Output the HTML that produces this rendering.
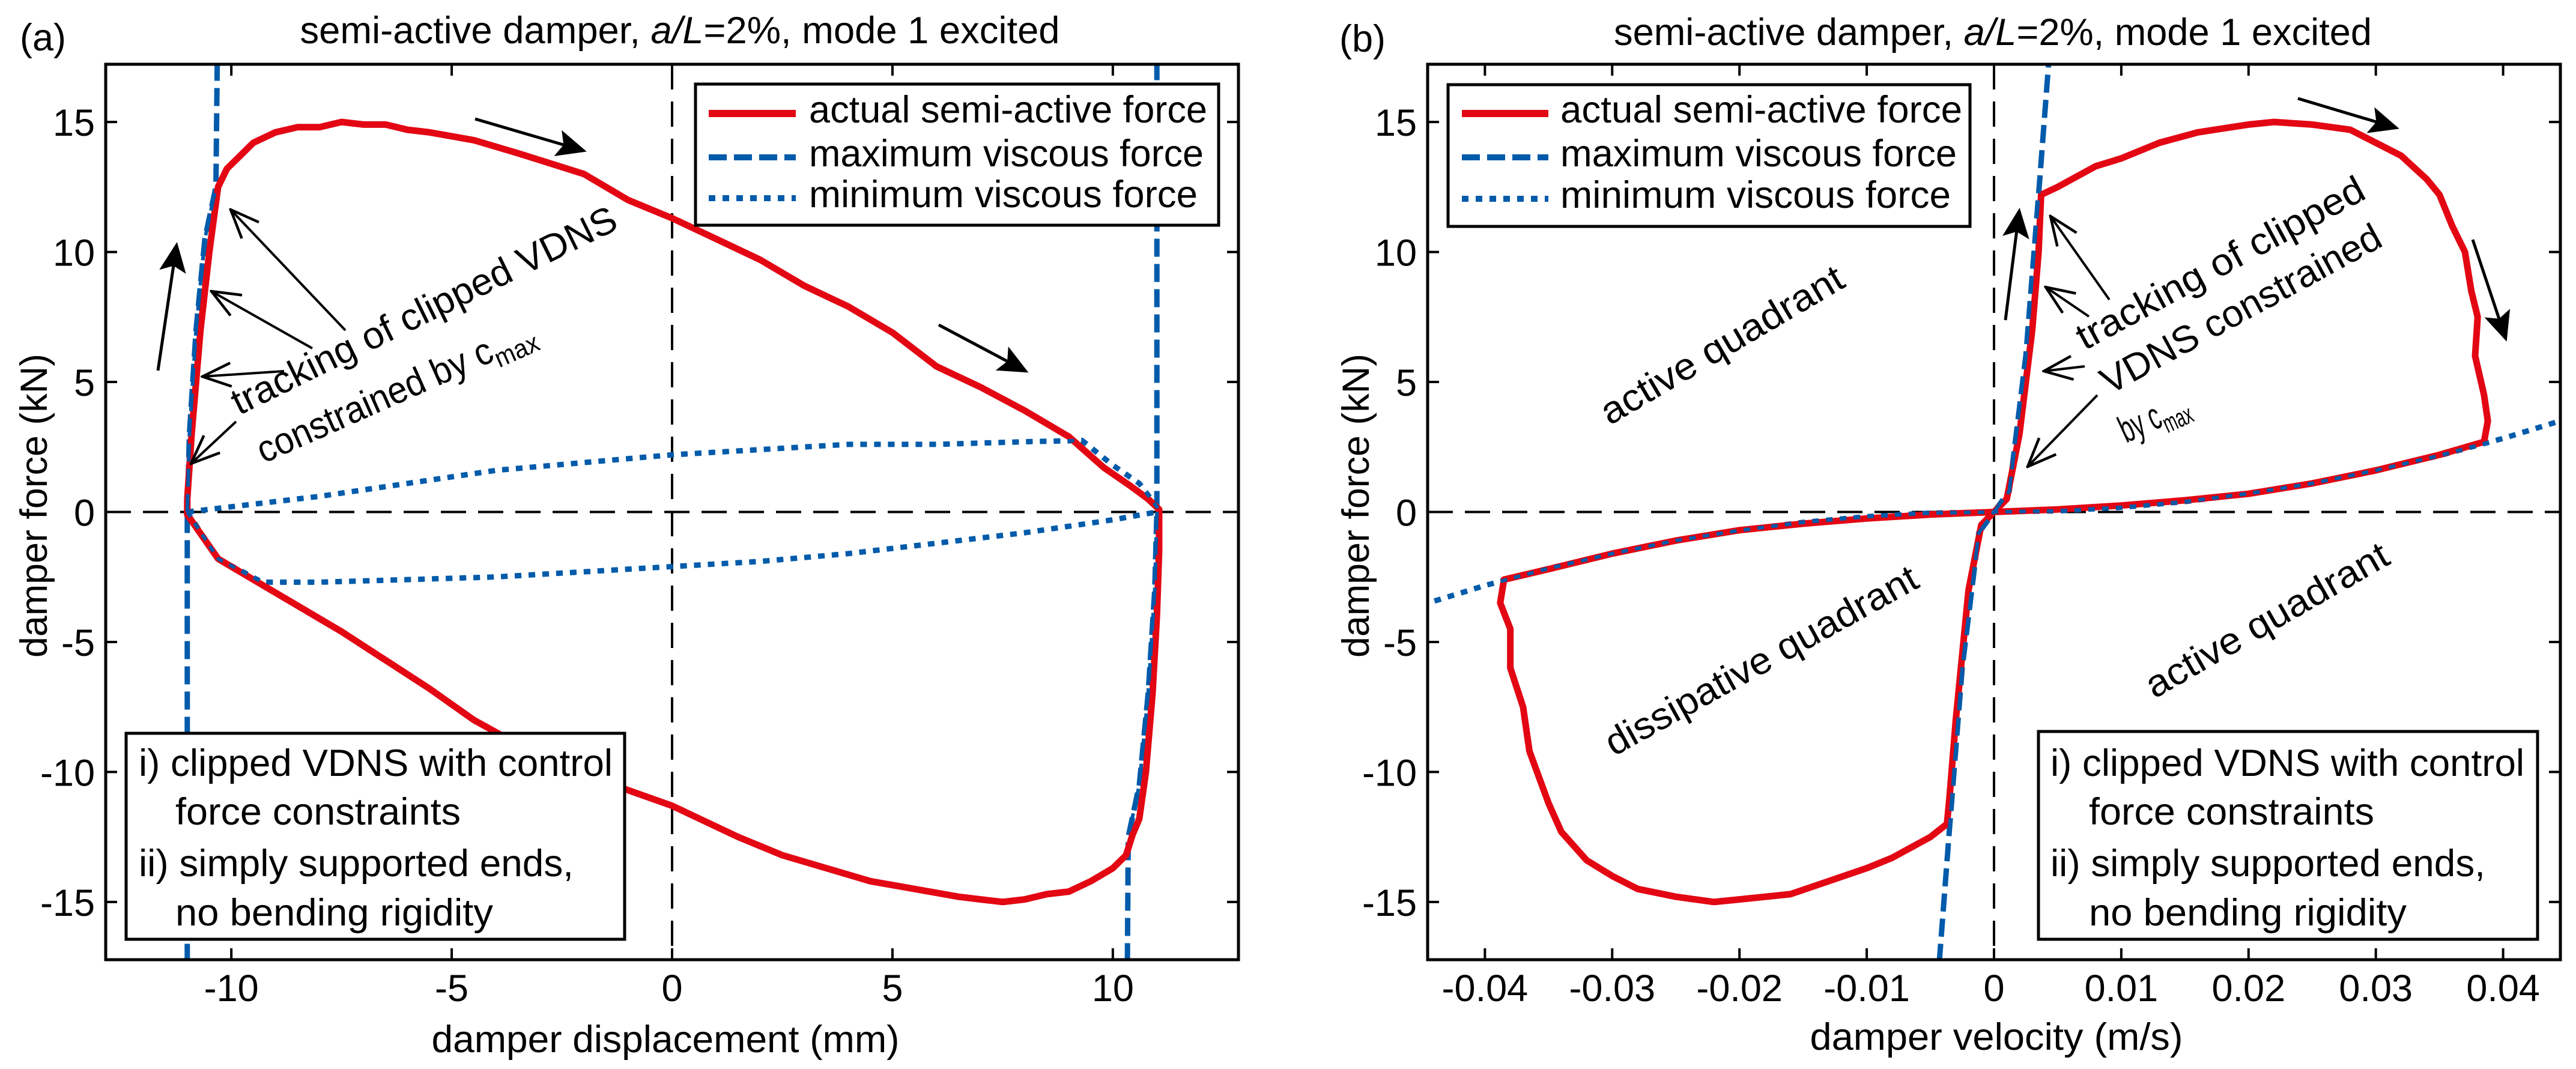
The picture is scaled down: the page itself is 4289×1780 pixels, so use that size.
<!DOCTYPE html>
<html><head><meta charset="utf-8"><style>
html,body{margin:0;padding:0;background:#fff}
svg{display:block}
text{font-family:"Liberation Sans",Arial,sans-serif;fill:#000}
</style></head><body>
<svg id="fig" xmlns="http://www.w3.org/2000/svg" width="4289" height="1780" viewBox="0 0 4289 1780">
<defs>
<marker id="hb" viewBox="0 0 10 10" refX="9" refY="5" markerWidth="10" markerHeight="10" markerUnits="strokeWidth" orient="auto"><path d="M0,0.5 L10,5 L0,9.5 L2,5 z" fill="#000"/></marker>
<marker id="ho" viewBox="0 0 10 10" refX="9.5" refY="5" markerWidth="14" markerHeight="14" markerUnits="strokeWidth" orient="auto"><path d="M1,1.5 L9.5,5 L1,8.5" fill="none" stroke="#000" stroke-width="0.8"/></marker>
<clipPath id="clipA"><rect x="176" y="107" width="1886" height="1491"/></clipPath>
<clipPath id="clipB"><rect x="2377" y="107" width="1886" height="1491"/></clipPath>
</defs>
<g id="layer"></g>
</svg>
<script>
// ---------- Panel (a) data: displacement (mm) vs force (kN) ----------
const aRedX=[-11.0,-10.9,-10.7,-10.5,-10.3,-10.1,-9.8,-9.5,-9.0,-8.5,-8.0,-7.5,-7.0,-6.5,-6.0,-5.5,-4.5,-3.5,-2.0,-1.0,0,1,2,3,4,5,6,7,8,9,9.8,10.4,10.8,11.05,11.05,11.0,10.9,10.75,10.6,10.45,10.3,10.0,9.5,9.0,8.5,8.0,7.5,7.0,6.5,5.5,4.5,3.5,2.5,1.5,0,-1.5,-3.0,-4.5,-5.5,-6.5,-7.5,-8.5,-9.5,-10.3,-11.0,-11.0];
const aRedY=[0.5,3.0,7.0,10.0,12.5,13.2,13.7,14.2,14.6,14.8,14.8,15.0,14.9,14.9,14.7,14.6,14.3,13.8,13.0,12.0,11.3,10.5,9.7,8.7,7.9,6.9,5.6,4.8,3.9,2.9,1.7,1.0,0.5,0.1,-1.5,-4.0,-7.0,-10.0,-11.8,-12.4,-13.2,-13.7,-14.2,-14.6,-14.7,-14.9,-15.0,-14.9,-14.8,-14.5,-14.2,-13.7,-13.2,-12.5,-11.3,-10.4,-9.4,-8.0,-6.8,-5.7,-4.6,-3.6,-2.6,-1.8,-0.1,0.5];
const aMaxUpX=[-11.0,-11.0,-10.95,-10.8,-10.6,-10.35,-10.32];
const aMaxUpY=[-17.3,0,3.0,7.0,10.5,12.5,17.3];
const aMaxDnX=[11.0,11.0,10.95,10.8,10.6,10.35,10.33];
const aMaxDnY=[17.3,0,-3.0,-7.0,-10.5,-12.5,-17.3];
const aMinX=[-11.0,-10.0,-8.0,-6.0,-4.0,-2.0,0,2,4,6,8,9.3,10.0,10.6,11.0,11.0,10.0,8.0,6.0,4.0,2.0,0,-2,-4,-6,-8,-9.3,-10.3,-11.0];
const aMinY=[0,0.2,0.6,1.1,1.6,1.9,2.2,2.4,2.6,2.6,2.7,2.75,1.8,1.1,0.2,0,-0.3,-0.8,-1.2,-1.6,-1.9,-2.1,-2.3,-2.5,-2.6,-2.7,-2.7,-1.8,0];
const aXTicks=[-10,-5,0,5,10];
const aXTickLabels=["-10","-5","0","5","10"];
// ---------- Panel (b) data: velocity (m/s) vs force (kN) ----------
const bRedX=[0,0.001,0.002,0.003,0.0035,0.0037,0.005,0.008,0.010,0.013,0.016,0.020,0.022,0.025,0.028,0.030,0.032,0.034,0.035,0.036,0.037,0.0375,0.038,0.0378,0.0385,0.0388,0.0385,0.035,0.030,0.025,0.020,0.015,0.010,0.005,0,-0.001,-0.002,-0.003,-0.0035,-0.0037,-0.005,-0.008,-0.010,-0.013,-0.016,-0.020,-0.022,-0.025,-0.028,-0.030,-0.032,-0.034,-0.035,-0.0365,-0.037,-0.038,-0.038,-0.0388,-0.0385,-0.035,-0.030,-0.025,-0.020,-0.015,-0.010,-0.005,0];
const bRedY=[0,0.5,3,7,10,12.2,12.5,13.3,13.6,14.2,14.6,14.9,15.0,14.9,14.7,14.2,13.7,12.8,12.2,11.0,10.0,8.5,7.5,6.0,4.5,3.5,2.7,2.2,1.6,1.1,0.7,0.45,0.25,0.1,0,-0.5,-3,-8,-11,-12,-12.5,-13.3,-13.7,-14.2,-14.7,-14.9,-15.0,-14.8,-14.5,-14.0,-13.4,-12.3,-11.2,-9.2,-7.5,-6.0,-4.5,-3.5,-2.6,-2.2,-1.6,-1.1,-0.7,-0.45,-0.25,-0.1,0];
const bMaxX=[-0.0043,-0.0035,-0.0025,-0.0012,0,0.0012,0.0025,0.0035,0.0043];
const bMaxY=[-17.3,-12.2,-6.0,-0.8,0,0.8,6.0,12.2,17.3];
const bMinX=[-0.045,-0.040,-0.035,-0.030,-0.025,-0.020,-0.015,-0.010,-0.005,0,0.005,0.010,0.015,0.020,0.025,0.030,0.035,0.040,0.045];
const bMinY=[-3.58,-2.83,-2.17,-1.6,-1.1,-0.71,-0.40,-0.18,-0.044,0,0.044,0.18,0.40,0.71,1.1,1.6,2.17,2.83,3.58];
const bXTicks=[-0.04,-0.03,-0.02,-0.01,0,0.01,0.02,0.03,0.04];
const bXTickLabels=["-0.04","-0.03","-0.02","-0.01","0","0.01","0.02","0.03","0.04"];
const yTicks=[-15,-10,-5,0,5,10,15];
const yTickLabels=["-15","-10","-5","0","5","10","15"];

const NS="http://www.w3.org/2000/svg";
const layer=document.getElementById('layer');
function mk(tag,attrs,parent){const e=document.createElementNS(NS,tag);for(const k in attrs)e.setAttribute(k,attrs[k]);(parent||layer).appendChild(e);return e;}

const T=107,B=1598,YMAX=17.22;
function yS(v){return (T+B)/2-(v/YMAX)*((B-T)/2);}
const pa={L:176,R:2062,xmin:-12.85,xmax:12.85,clip:'clipA'};
const pb={L:2377,R:4263,xmin:-0.0445,xmax:0.0445,clip:'clipB'};
function xS(p,v){return p.L+(v-p.xmin)/(p.xmax-p.xmin)*(p.R-p.L);}
function pathD(p,xs,ys){let d='';for(let i=0;i<xs.length;i++){d+=(i?'L':'M')+xS(p,xs[i]).toFixed(1)+','+yS(ys[i]).toFixed(1);}return d;}

function txt(x,y,s,size,anchor,len,parent){const t=mk('text',{x:x,y:y,'font-size':size,'text-anchor':anchor||'start'},parent);t.textContent=s;if(len){t.setAttribute('textLength',len);t.setAttribute('lengthAdjust','spacingAndGlyphs');}return t;}

function drawAxes(p,xt,xl,name){
  const g=mk('g',{});
  
  
  const zx=mk('line',{x1:p.L,x2:p.R,y1:yS(0),y2:yS(0),stroke:'#000','stroke-width':4,'stroke-dasharray':'42 20'},g);
  
  
  const zy=mk('line',{x1:xS(p,0),x2:xS(p,0),y1:T,y2:B,stroke:'#000','stroke-width':4,'stroke-dasharray':'42 20'},g);
  
  
  for(let i=0;i<xt.length;i++){
    const x=xS(p,xt[i]);
    mk('line',{x1:x,x2:x,y1:B,y2:B-19,stroke:'#000','stroke-width':4},g);
    mk('line',{x1:x,x2:x,y1:T,y2:T+19,stroke:'#000','stroke-width':4},g);
    const t=txt(x,1667,xl[i],63,'middle',null,g);
    
    
  }
  for(let i=0;i<yTicks.length;i++){
    const y=yS(yTicks[i]);
    mk('line',{x1:p.L,x2:p.L+19,y1:y,y2:y,stroke:'#000','stroke-width':4},g);
    mk('line',{x1:p.R,x2:p.R-19,y1:y,y2:y,stroke:'#000','stroke-width':4},g);
    const t=txt(p.L-18,y+23,yTickLabels[i],63,'end',null,g);
    
    
  }
}
function frame(p,name){
  const r=mk('rect',{x:p.L,y:T,width:p.R-p.L,height:B-T,fill:'none',stroke:'#000','stroke-width':5});
  
  
}
function series(p,xs,ys,style,nm){
  const e=mk('path',Object.assign({d:pathD(p,xs,ys),fill:'none','clip-path':'url(#'+p.clip+')','stroke-linejoin':'round'},style));
  
  
  return e;
}
const RED={stroke:'#e30613','stroke-width':11};
const DASH={stroke:'#005baa','stroke-width':9,'stroke-dasharray':'30 12'};
const DOT={stroke:'#005baa','stroke-width':9,'stroke-dasharray':'11 12'};

function arrow(x1,y1,x2,y2,bold,nm){
  const l=mk('line',{x1:x1,y1:y1,x2:x2,y2:y2,stroke:'#000','stroke-width':bold?5:4,'marker-end':bold?'url(#hb)':'url(#ho)'});
  
  
}
function rtext(x,y,ang,s,len,nm,sub){
  const t=mk('text',{x:x,y:y,'font-size':63,transform:'rotate('+ang+' '+x+' '+y+')',textLength:len,lengthAdjust:'spacingAndGlyphs'});
  t.appendChild(document.createTextNode(s));
  if(sub){const ts=mk('tspan',{'font-size':44,dy:14},t);ts.textContent=sub;}
  
  
}
function legend(x,y,w,h,sx1,sx2,tx,rows,lens,nm){
  const g=mk('g',{});
  
  
  mk('rect',{x:x,y:y,width:w,height:h,fill:'#fff',stroke:'#000','stroke-width':5},g);
  const labels=['actual semi-active force','maximum viscous force','minimum viscous force'];
  const st=[RED,DASH,DOT];
  for(let i=0;i<3;i++){
    mk('line',Object.assign({x1:sx1,x2:sx2,y1:rows[i],y2:rows[i]},st[i],{'stroke-width':i==0?12:10}),g);
    const t=txt(tx,rows[i]+15,labels[i],63,'start',lens[i],g);
    
    
  }
}
function notebox(x,y,w,h,x1,x2,nm){
  const g=mk('g',{});
  
  
  mk('rect',{x:x,y:y,width:w,height:h,fill:'#fff',stroke:'#000','stroke-width':5},g);
  txt(x1,1292,'i) clipped VDNS with control',63,'start',789,g);
  txt(x2,1373,'force constraints',63,'start',475,g);
  txt(x1,1459,'ii) simply supported ends,',63,'start',724,g);
  txt(x2,1541,'no bending rigidity',63,'start',529,g);
}
function title(cx,y,len,nm){
  const t=mk('text',{x:cx,y:y,'font-size':63,'text-anchor':'middle',textLength:len,lengthAdjust:'spacingAndGlyphs'});
  t.appendChild(document.createTextNode('semi-active damper, '));
  const it=mk('tspan',{'font-style':'italic'},t);it.textContent='a/L';
  t.appendChild(document.createTextNode('=2%, mode 1 excited'));
  
  
}

// ===== Panel A =====
drawAxes(pa,aXTicks,aXTickLabels,'panel-a');
series(pa,aMinX,aMinY,DOT,'panel-a-min-viscous-force');
series(pa,aMaxUpX,aMaxUpY,DASH,'panel-a-max-viscous-force-left');
series(pa,aMaxDnX,aMaxDnY,DASH,'panel-a-max-viscous-force-right');
series(pa,aRedX,aRedY,RED,'panel-a-semi-active-force');
series(pa,aMaxUpX.slice(1,6),aMaxUpY.slice(1,6),Object.assign({},DASH,{'stroke-width':6}),'panel-a-max-overlay-left');
series(pa,aMaxDnX.slice(1,6),aMaxDnY.slice(1,6),Object.assign({},DASH,{'stroke-width':6}),'panel-a-max-overlay-right');
series(pa,aMinX,aMinY,Object.assign({},DOT,{'stroke-width':6}),'panel-a-min-overlay');
frame(pa,'panel-a');
legend(1158,140,871,235,1180,1325,1347,[189,262,330],[663,657,647],'panel-a-legend');
notebox(210,1221,830,343,231,292,'panel-a-note-box');
title(1132,72,1265,'panel-a-title');
let t;
t=txt(33,84,'(a)',63,'start');
t=txt(1108,1752,'damper displacement (mm)',63,'middle',779);
t=mk('text',{x:78,y:842,'font-size':63,'text-anchor':'middle',transform:'rotate(-90 78 842)',textLength:506,lengthAdjust:'spacingAndGlyphs'});t.textContent='damper force (kN)';


rtext(398,692,-26.2,'tracking of clipped VDNS',707,'panel-a-annotation-tracking');
rtext(439,772,-24,'constrained by c',500,'panel-a-annotation-constrained','max');
arrow(575,550,384,349,false,'panel-a-arrow-1');
arrow(520,580,352,485,false,'panel-a-arrow-2');
arrow(473,618,337,627,false,'panel-a-arrow-3');
arrow(393,702,318,772,false,'panel-a-arrow-4');
arrow(263,617,294,408,true,'panel-a-direction-arrow-up');
arrow(791,198,972,251,true,'panel-a-direction-arrow-top');
arrow(1563,541,1708,618,true,'panel-a-direction-arrow-right');

// ===== Panel B =====
drawAxes(pb,bXTicks,bXTickLabels,'panel-b');
series(pb,bMinX,bMinY,DOT,'panel-b-min-viscous-force');
series(pb,bMaxX,bMaxY,DASH,'panel-b-max-viscous-force');
series(pb,bRedX,bRedY,RED,'panel-b-semi-active-force');
series(pb,bMaxX,bMaxY,Object.assign({},DASH,{'stroke-width':6}),'panel-b-max-overlay');
series(pb,bMinX,bMinY,Object.assign({},DOT,{'stroke-width':6}),'panel-b-min-overlay');
frame(pb,'panel-b');
legend(2411,141,869,236,2434,2578,2598,[189,262,331],[669,660,650],'panel-b-legend');
notebox(3394,1218,831,346,3414,3478,'panel-b-note-box');
title(3318,75,1262,'panel-b-title');
t=txt(2230,86,'(b)',63,'start');
t=txt(3324,1748,'damper velocity (m/s)',63,'middle',621);
t=mk('text',{x:2279,y:842,'font-size':63,'text-anchor':'middle',transform:'rotate(-90 2279 842)',textLength:506,lengthAdjust:'spacingAndGlyphs'});t.textContent='damper force (kN)';


rtext(2680,709,-30.5,'active quadrant',459,'panel-b-active-quadrant-upper');
rtext(2687,1260,-29,'dissipative quadrant',585,'panel-b-dissipative-quadrant');
rtext(3587,1164,-29.8,'active quadrant',456,'panel-b-active-quadrant-lower');
rtext(3471,584,-28.4,'tracking of clipped',536,'panel-b-annotation-tracking');
rtext(3512,658,-28.6,'VDNS constrained',522,'panel-b-annotation-vdns');
rtext(3540,738,-24.7,'by c',120,'panel-b-annotation-by-cmax','max');
arrow(3339,533,3362,351,true,'panel-b-direction-arrow-up');
arrow(3512,499,3414,360,false,'panel-b-arrow-1');
arrow(3478,527,3406,478,false,'panel-b-arrow-2');
arrow(3471,610,3403,618,false,'panel-b-arrow-3');
arrow(3492,658,3376,777,false,'panel-b-arrow-4');
arrow(3826,164,3990,213,true,'panel-b-direction-arrow-top');
arrow(4117,399,4172,564,true,'panel-b-direction-arrow-right');
</script>
</body></html>
